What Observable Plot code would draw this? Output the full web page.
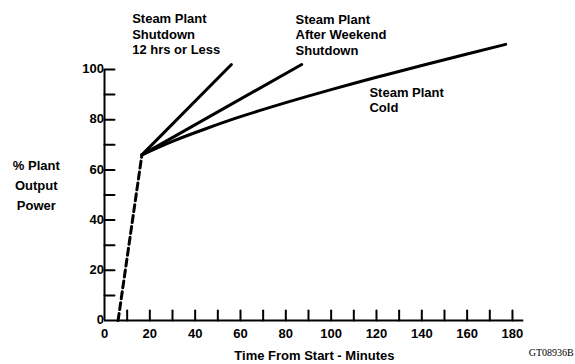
<!DOCTYPE html>
<html>
<head>
<meta charset="utf-8">
<script src="https://cdn.jsdelivr.net/npm/d3@7"></script>
<script src="https://cdn.jsdelivr.net/npm/@observablehq/plot@0.6"></script>
<style>
  html, body { margin: 0; padding: 0; background: #fff; }
  #chart svg { display: block; }
</style>
</head>
<body>
<div id="chart"></div>
<script>
// ---- data ----
const dashX = [6, 16.5];
const dashY = [0, 66];
const shortX = [16.5, 56];
const shortY = [66, 102];
const weekendX = [16.5, 87];
const weekendY = [66, 102];
const coldX = [16.5, 30, 45, 60, 80, 100, 120, 140, 160, 177];
const coldY = [66, 71.4, 76.5, 81.2, 86.8, 92.0, 96.9, 101.6, 106.2, 110.0];

const xTickLabels = [0, 20, 40, 60, 80, 100, 120, 140, 160, 180];
const xTickMarks = [10, 20, 30, 40, 50, 60, 70, 80, 90, 100, 110, 120, 130, 140, 150, 160, 170, 180];
const yTickLabels = [0, 20, 40, 60, 80, 100];
const yTickMarks = [10, 20, 30, 40, 50, 60, 70, 80, 90, 100];

const seriesLabels = ["Steam Plant\nShutdown\n12 hrs or Less", "Steam Plant\nAfter Weekend\nShutdown", "Steam Plant\nCold"];
const labelX = [12.2, 84.3, 116.9];
const labelY = [114.3, 114.1, 88.1];

const yTitle = "% Plant\nOutput\nPower";
const xTitle = "Time From Start - Minutes";
const figId = "GT08936B";

// ---- tables ----
const toRows = (xs, ys) => xs.map((x, i) => ({x, y: ys[i]}));
const dashRows = toRows(dashX, dashY);
const straightRows = [
  ...toRows(shortX, shortY).map(d => ({...d, s: "short"})),
  ...toRows(weekendX, weekendY).map(d => ({...d, s: "weekend"}))
];
const coldRows = toRows(coldX, coldY);
const labelRows = seriesLabels.map((t, i) => ({t, x: labelX[i], y: labelY[i]}));

const tickUp = {draw(ctx, l) { ctx.moveTo(0, 0); ctx.lineTo(0, -l); }};
const tickRight = {draw(ctx, l) { ctx.moveTo(0, 0); ctx.lineTo(l, 0); }};

const font = "'Liberation Sans', Arial, Helvetica, sans-serif";

const chart = Plot.plot({
  width: 575,
  height: 364,
  marginLeft: 104,
  marginRight: 51.7,
  marginTop: 69,
  marginBottom: 44,
  style: {fontFamily: font, fontSize: "13px", fontWeight: "bold", background: "#fff", color: "#000", overflow: "visible"},
  x: {domain: [0, 185], axis: null},
  y: {domain: [0, 100], axis: null},
  marks: [
    // axis lines
    Plot.ruleX([0], {y1: 0, y2: 100, stroke: "#000", strokeWidth: 2}),
    Plot.ruleY([0], {x1: 0, x2: 185, stroke: "#000", strokeWidth: 2}),
    // tick marks (inward)
    Plot.vector(xTickMarks, {x: d => d, y: 0, length: 10, anchor: "start", shape: tickUp, stroke: "#000", strokeWidth: 2}),
    Plot.vector(yTickMarks, {x: 0, y: d => d, length: 10, anchor: "start", shape: tickRight, stroke: "#000", strokeWidth: 2}),
    // tick labels
    Plot.text(xTickLabels, {x: d => d, y: 0, dy: 13, text: d => String(d), fill: "#000"}),
    Plot.text(yTickLabels, {x: 0, y: d => d, dx: d => d === 0 ? -13 : -11, dy: d => d === 0 ? 5 : 1, textAnchor: "end", text: d => String(d), fill: "#000"}),
    // data lines
    Plot.line(dashRows, {x: "x", y: "y", stroke: "#000", strokeWidth: 3, strokeDasharray: "7,4"}),
    Plot.line(straightRows, {x: "x", y: "y", z: "s", stroke: "#000", strokeWidth: 3, strokeLinecap: "round"}),
    Plot.line(coldRows, {x: "x", y: "y", stroke: "#000", strokeWidth: 3, curve: "natural", strokeLinecap: "round"}),
    // annotations
    Plot.text(labelRows, {x: "x", y: "y", text: "t", textAnchor: "start", lineAnchor: "middle", lineHeight: 1.2, fill: "#000"}),
    Plot.text([yTitle], {x: -30.1, y: 54.5, text: d => d, lineAnchor: "middle", lineHeight: 1.52, fill: "#000"}),
    Plot.text([xTitle], {x: 92.6, y: -13.9, text: d => d, fill: "#000"}),
    Plot.text([figId], {x: 187.2, y: -12.7, text: d => d, textAnchor: "start", fontFamily: "'Liberation Serif', 'Times New Roman', serif", fontWeight: "normal", fontSize: 10, fill: "#000"})
  ]
});
document.getElementById("chart").appendChild(chart);
</script>
</body>
</html>
